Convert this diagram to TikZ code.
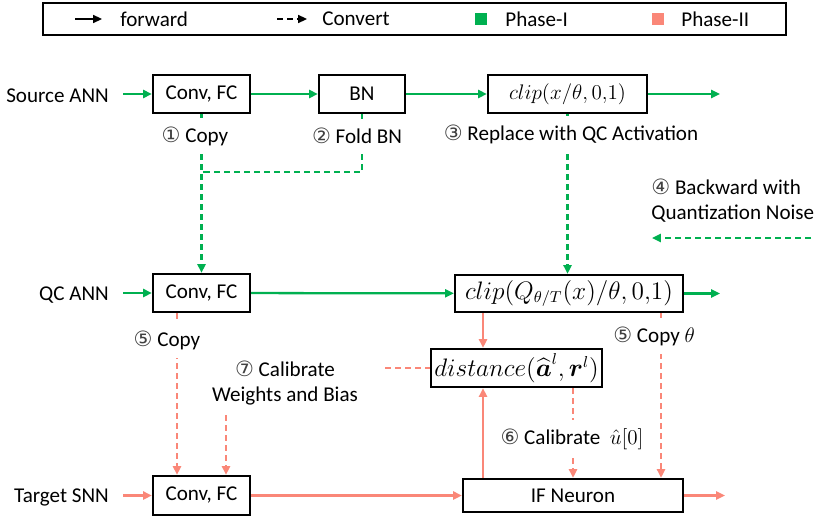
\documentclass[tikz,border=0pt]{standalone}
\usepackage{amsmath}
\usepackage{amssymb}
\usepackage{fontspec}
\setmainfont{Carlito}
\newfontfamily\circfont{DejaVu Sans}
\usetikzlibrary{arrows.meta,calc}
\definecolor{phaseone}{RGB}{0,176,80}
\definecolor{phasetwo}{RGB}{250,135,120}
\newcommand{\cnum}[1]{{\circfont\color{black!75}#1}}

\begin{document}
\begin{tikzpicture}[x=0.02cm,y=-0.02cm,font=\fontsize{12}{14}\selectfont,
  box/.style={draw,line width=1.2pt,inner sep=0pt},
  tip/.style={-{Triangle[length=5pt,width=4.5pt]}},
  gline/.style={phaseone,line width=1.3pt,tip},
  pline/.style={phasetwo,line width=1.3pt,tip},
  conv/.style={dash pattern=on 3.5pt off 2.2pt},
  lbl/.style={fill=white,inner xsep=1pt,inner ysep=5pt},
  bigmath/.style={font=\fontsize{13.5}{15}\selectfont}]
\useasboundingbox (0,0) rectangle (831,517);

% legend
\node[draw,line width=1.2pt,minimum width=743*0.02cm,minimum height=32*0.02cm] (legend) at (414.5,19) {};
\coordinate (fwa) at (75,19);
\coordinate (fwb) at (102,19);
\draw[line width=1pt,tip] (fwa) -- (fwb);
\node[anchor=west,inner sep=0pt] (fwtxt) at (120,19) {forward};
\coordinate (cva) at (277,19);
\coordinate (cvb) at (307,19);
\draw[line width=1pt,conv,tip] (cva) -- (cvb);
\node[anchor=west,inner sep=0pt] (cvtxt) at (322,19) {Convert};
\node[fill=phaseone,minimum size=12*0.02cm,inner sep=0pt] (sqone) at (481,19) {};
\node[anchor=west,inner sep=0pt] (onetxt) at (505,19) {Phase-I};
\node[fill=phasetwo,minimum size=12*0.02cm,inner sep=0pt] (sqtwo) at (658,19) {};
\node[anchor=west,inner sep=0pt] (twotxt) at (681,19) {Phase-II};

% rows
\node[anchor=east] (srcname) at (115,96) {Source ANN};
\node[anchor=east] (qcname) at (115,295) {QC ANN};
\node[anchor=east] (snnname) at (115,497) {Target SNN};
\coordinate (inA) at (123,94);
\coordinate (inB) at (123,293);
\coordinate (inC) at (123,495.5);

\node[box,minimum width=97*0.02cm,minimum height=38*0.02cm] (convA) at (201.5,94) {Conv, FC};
\node[box,minimum width=86*0.02cm,minimum height=38*0.02cm] (bnA) at (362,94) {BN};
\node[box,minimum width=159*0.02cm,minimum height=38*0.02cm,font=\fontsize{12.5}{14}\selectfont] (clipA) at (567.5,94) {$clip(x/\theta,0{,}1)$};
\coordinate (outA) at (720,94);

\node[box,minimum width=97*0.02cm,minimum height=38*0.02cm] (convB) at (201.5,293) {Conv, FC};
\node[box,bigmath,minimum width=228*0.02cm,minimum height=37*0.02cm] (clipB) at (569,293.5) {$clip(Q_{\theta/T}(x)/\theta,0{,}1)$};
\coordinate (outB) at (720,293.5);

\node[box,bigmath,minimum width=171*0.02cm,minimum height=38*0.02cm] (dist) at (516.5,368) {$distance(\widehat{\boldsymbol{a}}^l,\boldsymbol{r}^l)$};

\node[box,minimum width=97*0.02cm,minimum height=39*0.02cm] (convC) at (201.5,495.5) {Conv, FC};
\node[box,minimum width=220*0.02cm,minimum height=33*0.02cm] (ifn) at (573,495.5) {IF Neuron};
\coordinate (outC) at (725,495.5);

\draw[gline] (inA) -- (convA);
\draw[gline] (convA) -- (bnA);
\draw[gline] (bnA) -- (clipA);
\draw[gline] (clipA) -- (outA);
\draw[gline] (inB) -- (convB);
\draw[gline] (convB) -- (clipB);
\draw[gline] (clipB) -- (outB);
\draw[pline] (inC) -- (convC);
\draw[pline] (convC) -- (ifn);
\draw[pline] (ifn) -- (outC);

% phase I
\coordinate (foldy) at (205,172);
\draw[gline,conv,-] (bnA.south) |- (convA.south |- foldy);
\draw[gline,conv] (convA.south) -- (convB.north);
\draw[gline,conv] (clipA.south) -- (clipA.south |- clipB.north);
\node[lbl] (copyone) at (195,136) {\cnum{①} Copy};
\node[lbl] (fold) at (357,136) {\cnum{②} Fold BN};
\node[lbl] (replace) at (571,134) {\cnum{③} Replace with QC Activation};
\node[anchor=north west,align=left,inner sep=0pt] (backw) at (651,179) {\cnum{④} Backward with\\Quantization Noise};
\coordinate (bwa) at (811,238);
\coordinate (bwb) at (652,238);
\draw[gline,conv] (bwa) -- (bwb);

% phase II
\coordinate (xcopy) at (177,0);
\coordinate (xcal) at (226,415);
\coordinate (xdist) at (483,0);
\coordinate (xtheta) at (661,0);
\coordinate (xbias) at (385,368);
\draw[pline,conv] (convB.south -| xcopy) -- (convC.north -| xcopy);
\draw[pline,conv] (xcal) -- (convC.north -| xcal);
\draw[pline,conv,-] (xbias) -- (dist.west);
\draw[pline] (clipB.south -| xdist) -- (dist.north -| xdist);
\draw[pline] (ifn.north -| xdist) -- (dist.south -| xdist);
\draw[pline,conv] (clipB.south -| xtheta) -- (ifn.north -| xtheta);
\draw[pline,conv] (dist.south -| ifn.north) -- (ifn.north);
\node[lbl] (copytwo) at (167,340) {\cnum{⑤} Copy};
\node[align=center,inner sep=0pt] (calib) at (285,383) {\cnum{⑦} Calibrate\\Weights and Bias};
\node[lbl] (copytheta) at (654,336) {\cnum{⑤} Copy $\theta$};
\node[lbl] (calu) at (572,439) {\cnum{⑥} Calibrate\ \ $\hat{u}[0]$};
\end{tikzpicture}
\end{document}
